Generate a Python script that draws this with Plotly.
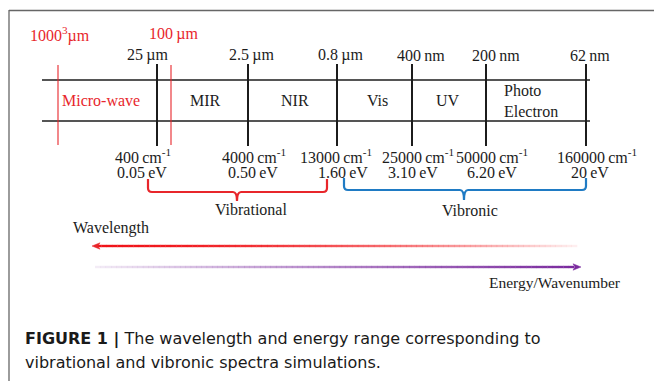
import plotly.graph_objects as go

# ---- content -------------------------------------------------------------
band_labels = ["Micro-wave", "MIR", "NIR", "Vis", "UV"]
photo_label = "Photo<br>Electron"
wavelength_labels = ["25\u2009µm", "2.5\u2009µm", "0.8\u2009µm", "400\u2009nm", "200\u2009nm", "62\u2009nm"]
red_wavelength_labels = ["1000<sup>3</sup>µm", "100\u2009µm"]
wavenumbers = ["400", "4000", "13000", "25000", "50000", "160000"]
energies_ev = ["0.05", "0.50", "1.60", "3.10", "6.20", "20"]
range_labels = ["Vibrational", "Vibronic"]
axis_labels = ["Wavelength", "Energy/Wavenumber"]
caption_bold = "FIGURE 1 |"
caption_line1 = "The wavelength and energy range corresponding to"
caption_line2 = "vibrational and vibronic spectra simulations."

# ---- layout geometry (pixel frame: x right, y down) ---------------------
W, H = 654, 381
tick_x = [157, 248, 337, 412, 486, 586]          # black boundaries
red_tick_x = [58, 171]                            # red boundaries
band_top, band_bot = 80, 121
band_x0, band_x1 = 42, 590
band_label_x = [101, 205, 295, 377, 448]
wl_label_x = [147, 251, 340, 421, 496, 590]
red_label_x = [60, 173]
wn_label_x = [143, 254, 336, 418, 492, 597]
ev_label_x = [142, 253, 343, 413, 492, 590]

RED = "#e8262b"
BLACK = "#1c1c1c"
BLUE = "#1f7bc4"
PURPLE = "#7a2a9e"
SERIF = "Liberation Serif, Times New Roman, serif"
SANS = "DejaVu Sans, Arial, sans-serif"

shapes = []
annotations = []


def line(x0, y0, x1, y1, color, width):
    shapes.append(dict(type="line", x0=x0, y0=y0, x1=x1, y1=y1,
                       line=dict(color=color, width=width), layer="above"))


def text(x, y, s, size=16, color=BLACK, family=SERIF, xanchor="center", align="center", **kw):
    annotations.append(dict(x=x, y=y, text=s, showarrow=False, xanchor=xanchor,
                            yanchor="middle", align=align,
                            font=dict(size=size, color=color, family=family), **kw))


# frame
line(9, 10.5, W, 10.5, "#666666", 1.3)
line(9, 10, 9, H, "#666666", 1.3)

# spectral band
line(band_x0, band_top, band_x1, band_top, BLACK, 1.6)
line(band_x0, band_bot, band_x1, band_bot, BLACK, 1.6)
for x in tick_x:
    line(x, 64, x, 146, BLACK, 2)
for x in red_tick_x:
    line(x, 65, x, 145, RED, 1.1)

for x, s in zip(band_label_x, band_labels):
    text(x, 100, s, color=RED if s == "Micro-wave" else BLACK)
text(502, 101, photo_label, xanchor="left", align="left")

for x, s in zip(wl_label_x, wavelength_labels):
    text(x, 55, s)
for x, s in zip(red_label_x, red_wavelength_labels):
    text(x, 34, s, color=RED)

for x, s in zip(wn_label_x, wavenumbers):
    text(x, 156, s + "\u2009cm<sup>-1</sup>")
for x, s in zip(ev_label_x, energies_ev):
    text(x, 172, s + "\u2009eV")


# range braces
def brace(x0, x1, xm, ytop, ymid, ytick, color):
    r = 4
    path = (f"M {x0},{ytop} L {x0},{ymid - r} Q {x0},{ymid} {x0 + r},{ymid} "
            f"L {xm - r},{ymid} Q {xm},{ymid} {xm},{ytick} "
            f"Q {xm},{ymid} {xm + r},{ymid} L {x1 - r},{ymid} "
            f"Q {x1},{ymid} {x1},{ymid - r} L {x1},{ytop}")
    shapes.append(dict(type="path", path=path, line=dict(color=color, width=2.2), layer="above"))


brace(148, 327, 237, 179, 192, 201, RED)
brace(344, 586, 464, 178, 190, 200, BLUE)
text(251, 209, range_labels[0])
text(470, 210, range_labels[1])


# gradient arrows built from short segments
def gradient_line(x0, x1, y, rgb, alpha_fn, n=90, width=2.4):
    step = (x1 - x0) / n
    for i in range(n):
        t = (i + 0.5) / n
        a = alpha_fn(t)
        shapes.append(dict(type="line", x0=x0 + i * step, x1=x0 + (i + 1) * step + 0.3,
                           y0=y, y1=y, layer="above",
                           line=dict(color=f"rgba({rgb[0]},{rgb[1]},{rgb[2]},{a:.3f})", width=width)))


def head(xtip, y, direction, color, length=8, half=3.2):
    xb = xtip - direction * length
    shapes.append(dict(type="path", path=f"M {xtip},{y} L {xb},{y - half} L {xb + direction * 2},{y} L {xb},{y + half} Z",
                       fillcolor=color, line=dict(color=color, width=0.5), layer="above"))


gradient_line(96, 577, 246, (240, 20, 25), lambda t: max(0.06, 1 - t ** 1.8 * 0.94))
head(92, 246, -1, RED)
text(111, 228, axis_labels[0])

gradient_line(95, 574, 267, (122, 42, 158), lambda t: 0.08 + 0.92 * t ** 0.9)
head(581, 267, 1, PURPLE)
text(555, 282, axis_labels[1], size=15.5)

# caption
annotations.append(dict(x=23, y=339, xanchor="left", yanchor="middle", showarrow=False, align="left",
                        text=f"<b>{caption_bold}</b> {caption_line1}",
                        font=dict(size=16, color="#1a1a1a", family=SANS)))
annotations.append(dict(x=23, y=362, xanchor="left", yanchor="middle", showarrow=False, align="left",
                        text=caption_line2,
                        font=dict(size=16, color="#1a1a1a", family=SANS)))

fig = go.Figure()
fig.update_layout(
    width=W, height=H, autosize=False,
    margin=dict(l=0, r=0, t=0, b=0),
    paper_bgcolor="white", plot_bgcolor="white",
    xaxis=dict(range=[0, W], visible=False, fixedrange=True),
    yaxis=dict(range=[H, 0], visible=False, fixedrange=True),
    shapes=shapes, annotations=annotations, showlegend=False,
)
fig.write_html("out.html")
